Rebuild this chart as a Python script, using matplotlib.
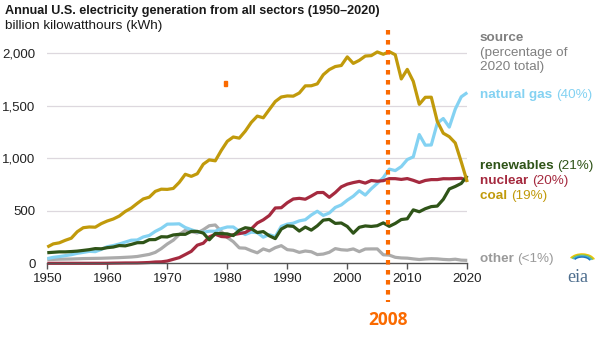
import numpy as np
import matplotlib
matplotlib.use("Agg")
import matplotlib.pyplot as plt
from matplotlib.patches import Rectangle, Arc

plt.rcParams['font.family'] = ['Liberation Sans', 'DejaVu Sans']

# annual generation, billion kWh
years = list(range(1950, 2021))

coal = [155, 185, 195, 219, 239, 301, 339, 346, 344, 378,
        403, 422, 450, 494, 526, 571, 613, 630, 685, 706,
        704, 713, 771, 848, 828, 853, 944, 985, 976, 1075,
        1162, 1203, 1192, 1259, 1342, 1402, 1386, 1464, 1541, 1584,
        1594, 1592, 1622, 1690, 1691, 1709, 1796, 1845, 1874, 1884,
        1966, 1904, 1933, 1974, 1978, 2013, 1991, 2016, 1986, 1756,
        1847, 1733, 1514, 1581, 1582, 1352, 1239, 1206, 1146, 965,
        774]

natural_gas = [45, 57, 64, 73, 82, 95, 104, 114, 111, 132,
               158, 169, 184, 202, 220, 222, 251, 265, 304, 333,
               373, 374, 376, 341, 320, 300, 295, 306, 305, 330,
               346, 346, 305, 274, 297, 292, 249, 273, 253, 352,
               373, 382, 404, 415, 460, 496, 456, 479, 532, 556,
               601, 639, 691, 650, 710, 761, 816, 897, 883, 921,
               988, 1014, 1226, 1125, 1127, 1335, 1379, 1297, 1469, 1586,
               1626]

nuclear = [0, 0, 0, 0, 0, 0, 0, 0, 0.2, 0.2,
           0.5, 1.7, 2.3, 3.2, 3.3, 3.7, 5.5, 7.7, 12.5, 13.9,
           21.8, 38.1, 54.1, 83.5, 114, 172.5, 191.1, 250.9, 276.4, 255.2,
           251.1, 272.7, 282.8, 293.7, 327.6, 383.7, 414.0, 455.3, 527.0, 529.4,
           576.9, 612.6, 618.8, 610.3, 640.4, 673.4, 674.7, 628.6, 673.7, 728.3,
           753.9, 768.8, 780.1, 763.7, 788.5, 782.0, 787.2, 806.4, 806.2, 798.9,
           807.0, 790.2, 769.3, 789.0, 797.2, 797.2, 805.7, 805.0, 807.1, 809.4,
           789.9]

renewables = [101, 105, 109, 109, 112, 116, 123, 130, 140, 138,
              149, 155, 169, 166, 180, 196, 197, 225, 226, 253,
              251, 270, 276, 276, 304, 304, 288, 224, 284, 283,
              280, 264, 314, 339, 330, 293, 302, 262, 235, 326,
              357, 352, 307, 345, 316, 357, 411, 418, 380, 384,
              351, 287, 343, 356, 351, 358, 385, 352, 380, 417,
              424, 509, 491, 520, 540, 545, 609, 708, 732, 761,
              834]

other = [36, 37, 39, 40, 41, 43, 45, 46, 47, 48,
         50, 52, 54, 57, 60, 65, 75, 85, 104, 140,
         184, 220, 274, 314, 301, 289, 320, 358, 365, 303,
         246, 206, 147, 144, 120, 100, 137, 118, 149, 168,
         130, 124, 104, 117, 110, 83, 88, 105, 140, 129,
         125, 137, 111, 136, 137, 137, 81, 78, 57, 51,
         49, 42, 36, 41, 44, 42, 37, 34, 39, 30,
         28]

series = [
    ("other", other, "#ABABAB", "(<1%)"),
    ("natural gas", natural_gas, "#84D2F2", "(40%)"),
    ("nuclear", nuclear, "#A52A3F", "(20%)"),
    ("renewables", renewables, "#2F5418", "(21%)"),
    ("coal", coal, "#C19A0B", "(19%)"),
]

# label heights on the right (data units)
label_y = {"natural gas": 1603, "renewables": 927, "nuclear": 784,
           "coal": 641, "other": 41}

highlight_label = "2008"
highlight_x = 2006.8
orange = "#FA6A00"

fig = plt.figure(figsize=(6.0, 3.53), dpi=100)
ax = fig.add_axes([0.0788, 0.2541, 0.70, 0.6246])

for name, vals, col, pct in series:
    ax.plot(years, vals, color=col, lw=2.3, solid_capstyle='butt', clip_on=False, zorder=3)

ax.set_xlim(1950, 2020)
ax.set_ylim(0, 2100)
ax.set_yticks([0, 500, 1000, 1500, 2000])
ax.set_yticklabels(["0", "500", "1,000", "1,500", "2,000"])
ax.set_xticks(range(1950, 2021, 10))
ax.tick_params(axis='y', length=0, pad=8.5, labelsize=9.5, colors='#222222')
ax.tick_params(axis='x', length=4, width=1, color='#555555', pad=3,
               labelsize=9.5, labelcolor='#222222')
for s in ['top', 'right', 'left']:
    ax.spines[s].set_visible(False)
ax.spines['bottom'].set_color('#555555')
ax.spines['bottom'].set_linewidth(1)
ax.spines['bottom'].set_zorder(4)
for yv in [500, 1000, 1500, 2000]:
    ax.axhline(yv, color='#DDD8DE', lw=0.9, zorder=1)

# right side labels
tx = 2022.1
fs = 9.7
ax.text(tx, 2146, "source", color='#808080', fontsize=fs, fontweight='bold',
        va='center', ha='left')
ax.text(tx, 2003, "(percentage of", color='#808080', fontsize=fs, va='center', ha='left')
ax.text(tx, 1870, "2020 total)", color='#808080', fontsize=fs, va='center', ha='left')
for name, vals, col, pct in series:
    tcol = '#9A9A9A' if name == "other" else col
    t = ax.text(tx, label_y[name], name + " ", color=tcol, fontsize=fs,
                fontweight='bold', va='center', ha='left')
    fig.canvas.draw()
    bb = t.get_window_extent()
    x1 = ax.transData.inverted().transform((bb.x1, 0))[0]
    ax.text(x1, label_y[name], pct, color=tcol, fontsize=fs, va='center', ha='left')

# highlighted year: dotted line from top to below the axis
ax.plot([highlight_x, highlight_x], [2220, -370], color=orange, lw=3.0,
        linestyle=(0, (1.1, 1.3)), solid_capstyle='butt', dash_capstyle='butt',
        clip_on=False, zorder=5)
ax.text(highlight_x, -540, highlight_label, color=orange, fontsize=12.5,
        fontweight='bold', ha='center', va='center', family=['Open Sans', 'DejaVu Sans'])

# stray orange mark
fig.patches.append(Rectangle((224 / 600, 1 - 86 / 353), 2.5 / 600, 5 / 353,
                             transform=fig.transFigure, color=orange, figure=fig))

# title
fig.text(5 / 600, 1 - 11 / 353, "Annual U.S. electricity generation from all sectors (1950\u20132020)",
         fontsize=9.1, fontweight='bold', color='#1A1A1A', va='center', ha='left')
fig.text(5 / 600, 1 - 26 / 353, "billion kilowatthours (kWh)", fontsize=9.7,
         color='#1A1A1A', va='center', ha='left')

# eia logo
fig.text(578 / 600, 1 - 278 / 353, "eia", fontsize=13, family=['Liberation Serif'],
         color='#4E6E8E', ha='center', va='center')
for i, c in enumerate(['#F2C200', '#8DC63F', '#3FA9D9', '#1C75BC']):
    fig.patches.append(Arc((582 / 600, 1 - 262 / 353), (26 - i * 3) / 600, (16 - i * 2) / 353,
                           theta1=20, theta2=150, color=c, lw=1.1,
                           transform=fig.transFigure, figure=fig))

fig.savefig("out.png", dpi=100)
